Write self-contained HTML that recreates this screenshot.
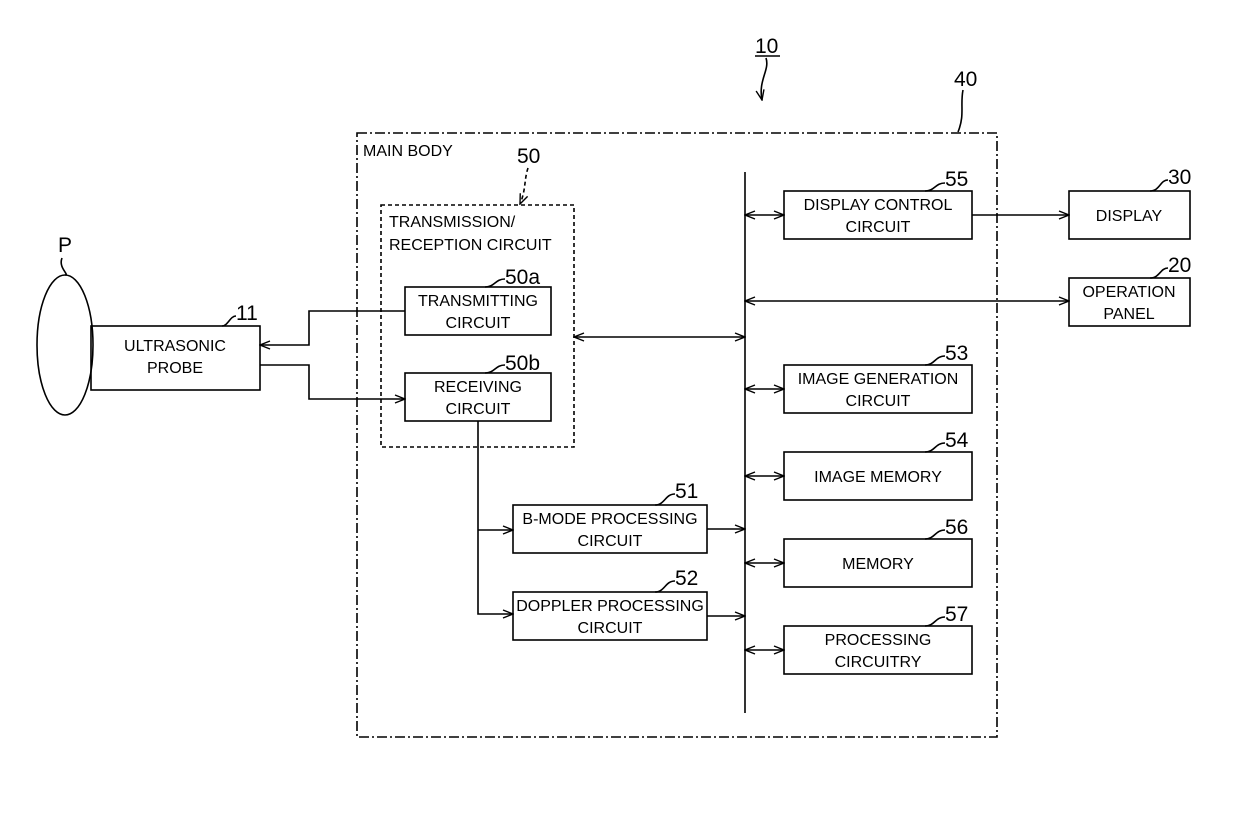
<!DOCTYPE html>
<html><head><style>body{margin:0;background:#fff}svg{display:block}text{font-family:"Liberation Sans",sans-serif;fill:#000}</style></head>
<body>
<svg width="1240" height="818" viewBox="0 0 1240 818">
<defs>
<marker id="a" markerWidth="12" markerHeight="10" refX="11" refY="5" orient="auto-start-reverse" markerUnits="userSpaceOnUse"><path d="M1,1 L11,5 L1,9" fill="none" stroke="#000" stroke-width="1.4"/></marker>
</defs>
<g fill="none" stroke="#000" stroke-width="1.6">
<rect x="357" y="133" width="640" height="604" stroke-dasharray="10,3,2,3"/>
<rect x="381" y="205" width="193" height="242" stroke-dasharray="4,3"/>
<ellipse cx="65" cy="345" rx="28" ry="70"/>
<rect x="91" y="326" width="169" height="64"/>
<rect x="405" y="287" width="146" height="48"/>
<rect x="405" y="373" width="146" height="48"/>
<rect x="513" y="505" width="194" height="48"/>
<rect x="513" y="592" width="194" height="48"/>
<rect x="784" y="191" width="188" height="48"/>
<rect x="784" y="365" width="188" height="48"/>
<rect x="784" y="452" width="188" height="48"/>
<rect x="784" y="539" width="188" height="48"/>
<rect x="784" y="626" width="188" height="48"/>
<rect x="1069" y="191" width="121" height="48"/>
<rect x="1069" y="278" width="121" height="48"/>
<line x1="745" y1="172" x2="745" y2="713"/>
<path d="M405,311 H309 V345 H260" marker-end="url(#a)"/>
<path d="M260,365 H309 V399 H405" marker-end="url(#a)"/>
<path d="M478,421 V614 H513" marker-end="url(#a)"/>
<path d="M478,530 H513" marker-end="url(#a)"/>
<path d="M707,529 H745" marker-end="url(#a)"/>
<path d="M707,616 H745" marker-end="url(#a)"/>
<path d="M574,337 H745" marker-start="url(#a)" marker-end="url(#a)"/>
<path d="M745,215 H784" marker-start="url(#a)" marker-end="url(#a)"/>
<path d="M745,389 H784" marker-start="url(#a)" marker-end="url(#a)"/>
<path d="M745,476 H784" marker-start="url(#a)" marker-end="url(#a)"/>
<path d="M745,563 H784" marker-start="url(#a)" marker-end="url(#a)"/>
<path d="M745,650 H784" marker-start="url(#a)" marker-end="url(#a)"/>
<path d="M745,301 H1069" marker-start="url(#a)" marker-end="url(#a)"/>
<path d="M972,215 H1069" marker-end="url(#a)"/>
<path d="M528,168 C524,180 526,190 520,204" stroke-dasharray="4,3" marker-end="url(#a)"/>
<path d="M766,58 C770,70 758,80 762,100" marker-end="url(#a)"/>
<line x1="755" y1="56" x2="780" y2="56"/>
<path d="M963,90 C960,105 965,115 958,132"/>
<path d="M62,258 C58,268 70,275 65,275"/>
<path d="M236,316 C230,316 228,326 222,326"/>
<path d="M505,279 C495,279 495,287 485,287"/>
<path d="M505,365 C495,365 495,373 485,373"/>
<path d="M675,494 C665,494 665,505 655,505"/>
<path d="M675,581 C665,581 665,592 655,592"/>
<path d="M945,183 C935,183 935,191 925,191"/>
<path d="M945,356 C935,356 935,365 925,365"/>
<path d="M945,443 C935,443 935,452 925,452"/>
<path d="M945,530 C935,530 935,539 925,539"/>
<path d="M945,617 C935,617 935,626 925,626"/>
<path d="M1168,180 C1160,180 1160,191 1150,191"/>
<path d="M1168,268 C1160,268 1160,278 1150,278"/>
</g>
<g font-size="16">
<text x="363" y="156">MAIN BODY</text>
<text x="389" y="227">TRANSMISSION/</text>
<text x="389" y="250">RECEPTION CIRCUIT</text>
</g>
<g font-size="16" text-anchor="middle">
<text x="175" y="351">ULTRASONIC</text><text x="175" y="373">PROBE</text>
<text x="478" y="306">TRANSMITTING</text><text x="478" y="328">CIRCUIT</text>
<text x="478" y="392">RECEIVING</text><text x="478" y="414">CIRCUIT</text>
<text x="610" y="524">B-MODE PROCESSING</text><text x="610" y="546">CIRCUIT</text>
<text x="610" y="611">DOPPLER PROCESSING</text><text x="610" y="633">CIRCUIT</text>
<text x="878" y="210">DISPLAY CONTROL</text><text x="878" y="232">CIRCUIT</text>
<text x="878" y="384">IMAGE GENERATION</text><text x="878" y="406">CIRCUIT</text>
<text x="878" y="482">IMAGE MEMORY</text>
<text x="878" y="569">MEMORY</text>
<text x="878" y="645">PROCESSING</text><text x="878" y="667">CIRCUITRY</text>
<text x="1129" y="221">DISPLAY</text>
<text x="1129" y="297">OPERATION</text><text x="1129" y="319">PANEL</text>
</g>
<g font-size="21">
<text x="755" y="53">10</text>
<text x="954" y="86">40</text>
<text x="517" y="163">50</text>
<text x="58" y="252">P</text>
<text x="236" y="320">11</text>
<text x="505" y="284">50a</text>
<text x="505" y="370">50b</text>
<text x="675" y="498">51</text>
<text x="675" y="585">52</text>
<text x="945" y="186">55</text>
<text x="945" y="360">53</text>
<text x="945" y="447">54</text>
<text x="945" y="534">56</text>
<text x="945" y="621">57</text>
<text x="1168" y="184">30</text>
<text x="1168" y="272">20</text>
</g>
</svg>
</body></html>
